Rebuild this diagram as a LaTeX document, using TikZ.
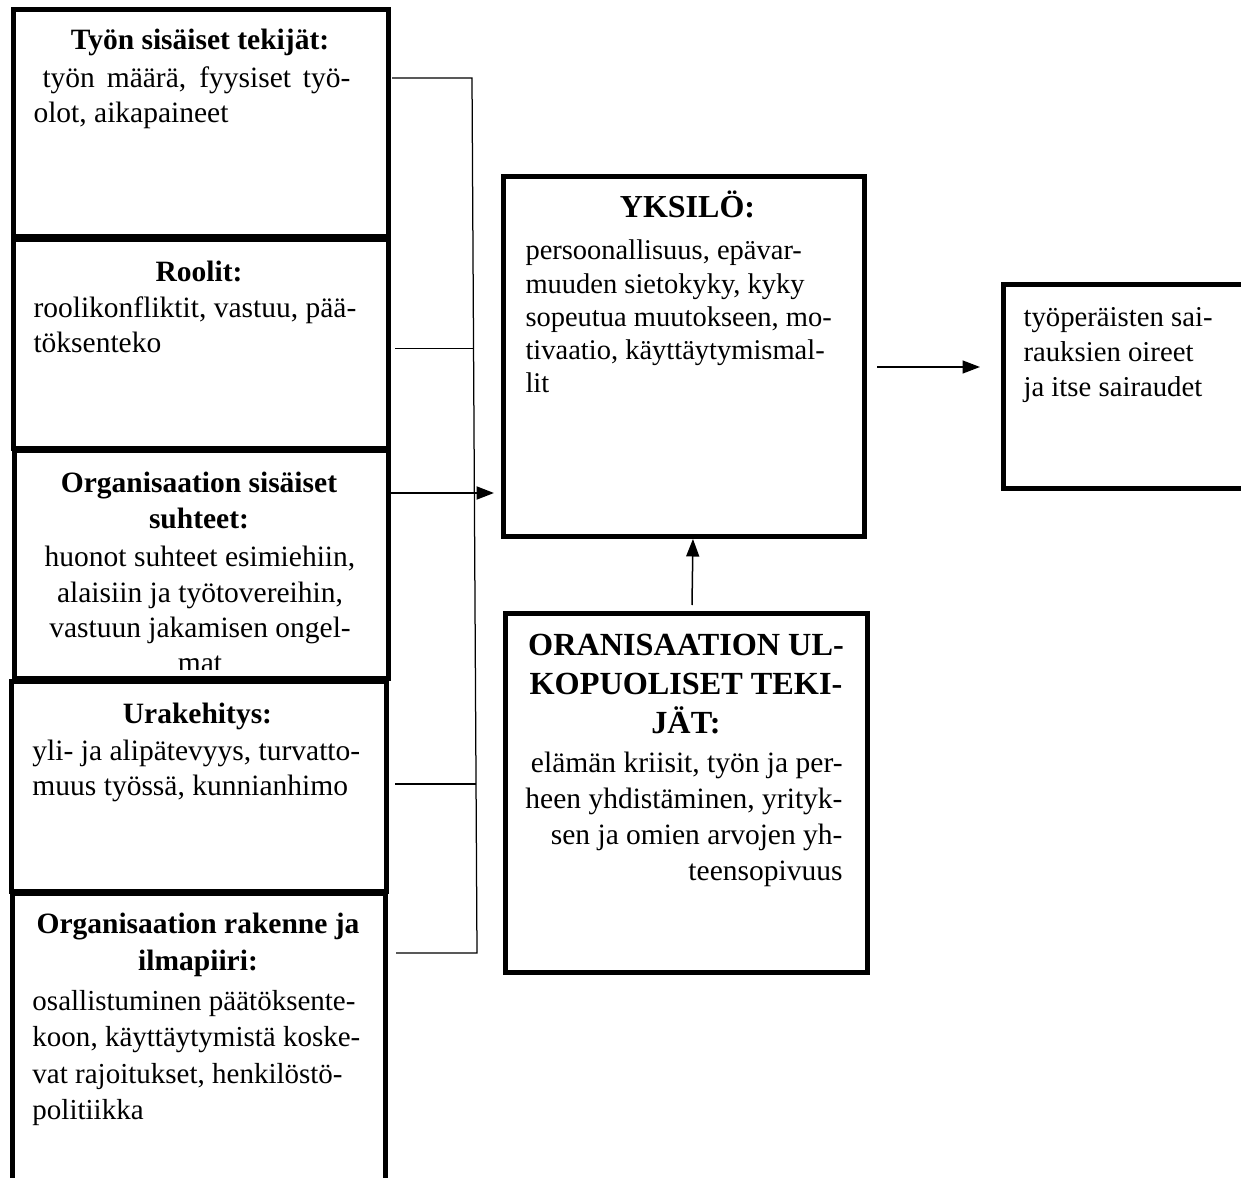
\documentclass[tikz,border=0pt]{standalone}
\usepackage{fontspec}
\setmainfont{Liberation Serif}
\usetikzlibrary{arrows.meta,fit}

% stacked lines, aligned left / centred / right; the node's base is the first line
\newcommand\colL[1]{\vtop{\halign{##\hfil\cr#1\crcr}}}
\newcommand\colC[1]{\vtop{\halign{\hfil##\hfil\cr#1\crcr}}}
\newcommand\colR[1]{\vtop{\halign{\hfil##\cr#1\crcr}}}

\tikzset{
  box/.style={draw, line width=2pt, rectangle, inner sep=0pt},
  hd/.style={inner sep=0pt, font=\fontsize{11.8}{14}\selectfont\bfseries},
  bd/.style={inner sep=0pt, font=\fontsize{11.8}{14}\selectfont},
  link/.style={line width=0.5pt},
  flow/.style={line width=0.6pt, -{Triangle[length=7pt,width=5.2pt]}},
}

\begin{document}
\begin{tikzpicture}[x=0.4pt, y=-0.4pt]
\useasboundingbox (0,0) rectangle (1241,1178);
\fill[white] (0,0) rectangle (1241,1178);
\clip (0,0) rectangle (1241,1178);

% ---- left column of stress factors ----
\node[box, fit={(13,10) (388,237)}] (tyon) {};
\node[box, fit={(13,240) (388,449)}] (roolit) {};
\node[box, fit={(14,451) (388,678)}] (suhteet) {};
\node[box, fit={(11,681) (386,891)}] (ura) {};
\node[box, fit={(12,893) (385,1220)}] (rakenne) {};

\node[hd, anchor=base] (tyon-h) at (200,50) {\colC{Työn sisäiset tekijät:}};
\node[bd, anchor=base west] (tyon-t) at (33,88)
  {\colL{\hskip3.6pt\hbox to 123.2pt{työn määrä, fyysiset työ-}\cr olot, aikapaineet}};

\node[hd, anchor=base] (roolit-h) at (199,282) {\colC{Roolit:}};
\node[bd, anchor=base west] (roolit-t) at (33,318)
  {\colL{roolikonfliktit, vastuu, pää-\cr töksenteko}};

\begin{scope}
  \clip (14,451) rectangle (388,669);
  \node[hd, anchor=base] (suhteet-h) at (199,493)
    {\colC{Organisaation sisäiset\cr suhteet:}};
  \node[bd, anchor=base, font=\fontsize{11.8}{14.1}\selectfont] (suhteet-t) at (200,567)
    {\colC{huonot suhteet esimiehiin,\cr alaisiin ja työtovereihin,\cr vastuun jakamisen ongel-\cr mat}};
\end{scope}

\node[hd, anchor=base] (ura-h) at (197.5,723) {\colC{Urakehitys:}};
\node[bd, anchor=base west] (ura-t) at (32,760)
  {\colL{yli- ja alipätevyys, turvatto-\cr muus työssä, kunnianhimo}};

\node[hd, anchor=base, font=\fontsize{11.8}{14.8}\selectfont\bfseries] (rakenne-h) at (198,933)
  {\colC{Organisaation rakenne ja\cr ilmapiiri:}};
\node[bd, anchor=base west, font=\fontsize{11.6}{14.6}\selectfont] (rakenne-t) at (32,1010)
  {\colL{osallistuminen päätöksente-\cr koon, käyttäytymistä koske-\cr vat rajoitukset, henkilöstö-\cr politiikka}};

% ---- individual ----
\node[box, fit={(503,177) (864,537)}] (yksilo) {};
\node[hd, anchor=base, font=\fontsize{12.8}{15}\selectfont\bfseries] (yksilo-h) at (687.5,218)
  {\colC{YKSILÖ:}};
\node[bd, anchor=base west, font=\fontsize{11.4}{13.3}\selectfont] (yksilo-t) at (525,260)
  {\colL{persoonallisuus, epävar-\cr muuden sietokyky, kyky\cr sopeutua muutokseen, mo-\cr tivaatio, käyttäytymismal-\cr lit}};

% ---- factors outside the organisation ----
\node[box, fit={(505,613) (867,972)}] (ulko) {};
\node[hd, anchor=base, font=\fontsize{12.9}{15.6}\selectfont\bfseries] (ulko-h) at (686,655)
  {\colC{ORANISAATION UL-\cr KOPUOLISET TEKI-\cr JÄT:}};
\node[bd, anchor=base east, font=\fontsize{11.8}{14.4}\selectfont] (ulko-t) at (843,772)
  {\colR{elämän kriisit, työn ja per-\cr heen yhdistäminen, yrityk-\cr sen ja omien arvojen yh-\cr teensopivuus}};

% ---- outcome ----
\node[box, fit={(1003,285) (1270,489)}] (sairaus) {};
\node[bd, anchor=base west, font=\fontsize{11.5}{14}\selectfont] (sairaus-t) at (1023,327)
  {\colL{työperäisten sai-\cr rauksien oireet\cr ja itse sairaudet}};

% ---- bracket joining the left column ----
\coordinate (k1) at (392,78);
\coordinate (k2) at (472,78);
\coordinate (k5) at (477,953);
\coordinate (k6) at (396,953);
\coordinate (r1) at (395,348.5);
\coordinate (r2) at (473.5,348.5);
\coordinate (u1) at (395,784);
\coordinate (u2) at (476,784);
\draw[link] (k1) -- (k2) -- (k5) -- (k6);
\draw[link] (r1) -- (r2);
\draw[link] (u1) -- (u2);

% ---- arrows ----
\coordinate (a3) at (391,493);
\draw[flow, line width=0.8pt, shorten >=2.6pt] (a3) -- (a3 -| yksilo.west);

\coordinate (v0) at (692,605);
\coordinate (v1) at (693,537);
\draw[flow, shorten >=0.8pt] (v0) -- (v1);

\coordinate (s0) at (877,367);
\coordinate (s1) at (980,367);
\draw[flow] (s0) -- (s1);
\end{tikzpicture}
\end{document}
